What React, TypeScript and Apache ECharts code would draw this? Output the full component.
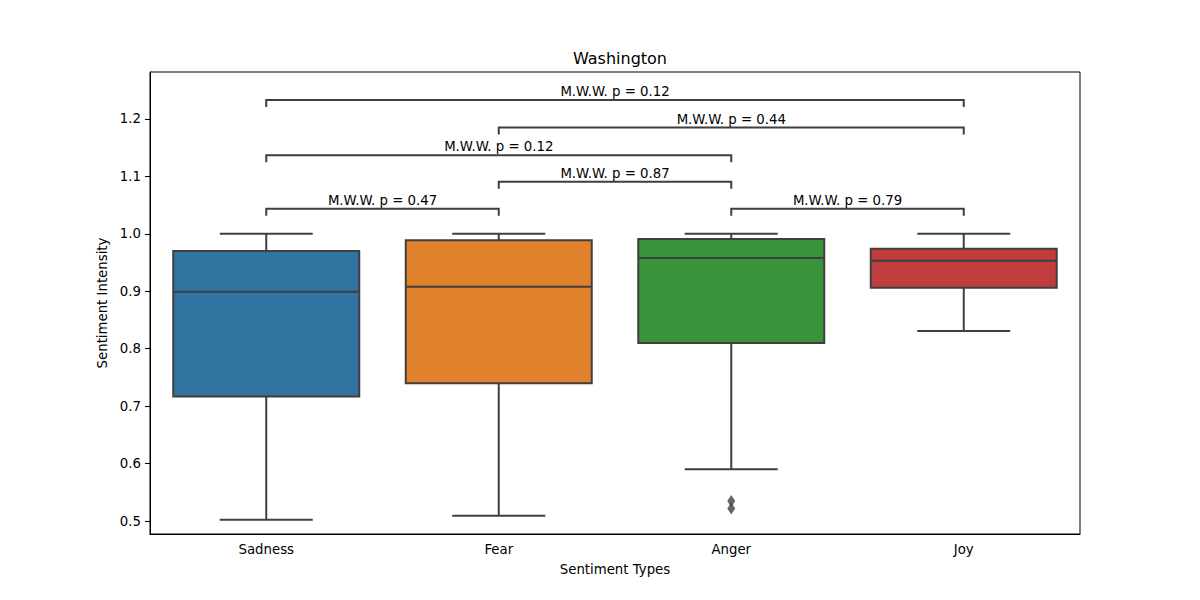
import React, { useEffect, useRef } from "react";
import * as echarts from "echarts";

const categories = ["Sadness", "Fear", "Anger", "Joy"];
const boxColors = ["#3274a1", "#e1812c", "#3a923a", "#c03d3e"];
// [min, Q1, median, Q3, max]
const boxStats = [
  [0.502, 0.717, 0.899, 0.97, 1.0],
  [0.509, 0.74, 0.908, 0.989, 1.0],
  [0.59, 0.81, 0.958, 0.991, 1.0],
  [0.831, 0.906, 0.953, 0.974, 1.0],
];
// outliers: [categoryIndex, value]
const outliers = [
  [2, 0.535],
  [2, 0.522],
];
// brackets: [fromIndex, toIndex, yValue]
const brackets = [
  [0, 1, 1.0435],
  [2, 3, 1.0435],
  [1, 2, 1.0905],
  [0, 2, 1.137],
  [1, 3, 1.185],
  [0, 3, 1.233],
];
const bracketLabels = [
  "M.W.W. p = 0.47",
  "M.W.W. p = 0.79",
  "M.W.W. p = 0.87",
  "M.W.W. p = 0.12",
  "M.W.W. p = 0.44",
  "M.W.W. p = 0.12",
];
const yTicks = [0.5, 0.6, 0.7, 0.8, 0.9, 1.0, 1.1, 1.2];

const LINE = "#3f3f3f";
const FONT = "DejaVu Sans";

export default function App() {
  const ref = useRef<HTMLDivElement>(null);
  useEffect(() => {
    const chart = echarts.init(ref.current!, null, { renderer: "svg" });
    const boxData = boxStats.map((s, i) => [i, ...s]);
    chart.setOption({
      animation: false,
      title: {
        text: "Washington",
        left: 615,
        textAlign: "center",
        top: 45,
        textStyle: { fontFamily: FONT, fontSize: 16, fontWeight: "normal", color: "#000" },
      },
      grid: {
        left: 150,
        top: 72,
        width: 930,
        height: 462,
        show: true,
        borderColor: "#000",
        borderWidth: 1,
        backgroundColor: "transparent",
      },
      xAxis: {
        type: "category",
        data: categories,
        boundaryGap: true,
        name: "Sentiment Types",
        nameLocation: "middle",
        nameGap: 29,
        nameTextStyle: { fontFamily: FONT, fontSize: 13.3, color: "#000" },
        axisLine: { lineStyle: { color: "#000", width: 1 } },
        axisTick: { alignWithLabel: true, length: 5, lineStyle: { color: "#000" } },
        axisLabel: { fontFamily: FONT, fontSize: 13.3, color: "#000", margin: 9 },
        splitLine: { show: false },
      },
      yAxis: {
        type: "value",
        min: 0.4774,
        max: 1.2818,
        name: "Sentiment Intensity",
        nameLocation: "middle",
        nameGap: 38,
        nameTextStyle: { fontFamily: FONT, fontSize: 13.3, color: "#000" },
        axisLine: { show: true, lineStyle: { color: "#000", width: 1 } },
        axisTick: { show: true, length: 5, customValues: yTicks, lineStyle: { color: "#000" } },
        axisLabel: {
          fontFamily: FONT,
          fontSize: 13.3,
          color: "#000",
          margin: 9,
          customValues: yTicks,
          formatter: (v: number) => v.toFixed(1),
        },
        splitLine: { show: false },
      },
      series: [
        {
          type: "custom",
          data: boxData,
          encode: { x: 0, y: [1, 2, 3, 4, 5] },
          z: 2,
          renderItem: (params: any, api: any) => {
            const idx = api.value(0);
            const band = api.size([1, 0])[0];
            const bw = band * 0.8;
            const cw = band * 0.4;
            const pMin = api.coord([idx, api.value(1)]);
            const pQ1 = api.coord([idx, api.value(2)]);
            const pMed = api.coord([idx, api.value(3)]);
            const pQ3 = api.coord([idx, api.value(4)]);
            const pMax = api.coord([idx, api.value(5)]);
            const cx = pMed[0];
            const ls = { stroke: LINE, lineWidth: 2 };
            return {
              type: "group",
              children: [
                { type: "line", shape: { x1: cx, y1: pQ1[1], x2: cx, y2: pMin[1] }, style: ls },
                { type: "line", shape: { x1: cx, y1: pQ3[1], x2: cx, y2: pMax[1] }, style: ls },
                { type: "line", shape: { x1: cx - cw / 2, y1: pMin[1], x2: cx + cw / 2, y2: pMin[1] }, style: ls },
                { type: "line", shape: { x1: cx - cw / 2, y1: pMax[1], x2: cx + cw / 2, y2: pMax[1] }, style: ls },
                {
                  type: "rect",
                  shape: { x: cx - bw / 2, y: pQ3[1], width: bw, height: pQ1[1] - pQ3[1] },
                  style: { fill: boxColors[params.dataIndex], stroke: LINE, lineWidth: 2 },
                },
                { type: "line", shape: { x1: cx - bw / 2, y1: pMed[1], x2: cx + bw / 2, y2: pMed[1] }, style: ls },
              ],
            };
          },
        },
        {
          type: "scatter",
          data: outliers,
          symbol: "diamond",
          symbolSize: [8, 12],
          itemStyle: { color: LINE },
          z: 3,
        },
        {
          type: "custom",
          data: brackets.map((b, i) => [...b, i]),
          encode: { x: [0, 1], y: 2 },
          z: 4,
          renderItem: (params: any, api: any) => {
            const a = api.coord([api.value(0), api.value(2)]);
            const b = api.coord([api.value(1), api.value(2)]);
            const t = 7;
            return {
              type: "group",
              children: [
                {
                  type: "polyline",
                  shape: { points: [[a[0], a[1] + t], [a[0], a[1]], [b[0], b[1]], [b[0], b[1] + t]] },
                  style: { stroke: LINE, lineWidth: 2, fill: "none" },
                },
                {
                  type: "text",
                  x: (a[0] + b[0]) / 2,
                  y: a[1] - 2,
                  style: {
                    text: bracketLabels[params.dataIndex],
                    fontFamily: FONT,
                    fontSize: 13.3,
                    fill: "#000",
                    align: "center",
                    verticalAlign: "bottom",
                  },
                },
              ],
            };
          },
        },
      ],
    });
    return () => chart.dispose();
  }, []);
  return <div ref={ref} style={{ width: 1200, height: 600, margin: -8 }} />;
}
